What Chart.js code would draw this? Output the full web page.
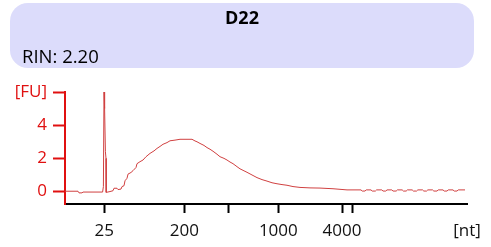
<!DOCTYPE html>
<html>
<head>
<meta charset="utf-8">
<script src="https://cdn.jsdelivr.net/npm/chart.js@4"></script>
<style>
  html, body { margin: 0; padding: 0; background: #fff; }
  #wrap { width: 491px; height: 247px; }
</style>
</head>
<body>
<div id="wrap"><canvas id="myChart"></canvas></div>
<script>
const sampleName = 'D22';
const rinText = 'RIN: 2.20';

// migration position (arbitrary time units) and fluorescence
const timePos = [0, 3.25, 3.5, 4.25, 4.5, 9.4, 9.6, 9.75, 9.9, 10.1, 10.25, 10.3,
  11.25, 12, 12.25, 13, 13.25, 14, 14.25, 14.75, 15, 15.5, 15.75, 16.5, 17, 17.75,
  18, 18.75, 19.5, 20.25, 21.25, 22.25, 23, 23.75, 24.5, 25.5, 26.25, 27.5, 28.75,
  30.25, 31.75, 32.5, 33, 33.75, 34.75, 35.5, 36.25, 37, 38, 38.75, 39.75, 40.5,
  41.25, 42, 43, 43.75, 44.75, 45.5, 46.75, 48, 49.25, 50.5, 51.75, 53, 54.25,
  55.5, 57, 58.75, 61.25, 63.75, 67, 70.5, 72, 74, 74.3, 75, 75.3, 76.5, 76.8,
  77.6, 77.9, 79.2, 79.5, 80.2, 80.5, 81.7, 82, 82.8, 83.1, 84.3, 84.6, 85.3,
  85.6, 86.8, 87.1, 87.9, 88.2, 89.4, 89.7, 90.4, 90.7, 91.9, 92.2, 93, 93.3,
  94.5, 94.8, 95.5, 95.8, 97, 97.3, 98, 98.3, 100];
const fluorescence = [0.02, 0.02, -0.08, -0.08, -0.03, -0.03, 0.3, 6.0, 5.0, 2.4, 2.0, -0.05,
  0.0, 0.05, 0.2, 0.2, 0.12, 0.15, 0.3, 0.35, 0.65, 0.8, 1.05, 1.15, 1.26, 1.45,
  1.68, 1.8, 1.9, 2.1, 2.3, 2.45, 2.6, 2.72, 2.85, 2.95, 3.06, 3.1, 3.15,
  3.15, 3.15, 3.05, 3.0, 2.9, 2.78, 2.65, 2.55, 2.43, 2.25, 2.1, 2.0, 1.9,
  1.78, 1.68, 1.5, 1.37, 1.25, 1.16, 1.0, 0.84, 0.72, 0.63, 0.53, 0.47, 0.42,
  0.38, 0.3, 0.25, 0.22, 0.21, 0.17, 0.1, 0.1, 0.1, 0.03, 0.03, 0.1, 0.1, 0.03,
  0.03, 0.1, 0.1, 0.03, 0.03, 0.1, 0.1, 0.03, 0.03, 0.1, 0.1, 0.03,
  0.03, 0.1, 0.1, 0.03, 0.03, 0.1, 0.1, 0.03, 0.03, 0.1, 0.1, 0.03,
  0.03, 0.1, 0.1, 0.03, 0.03, 0.1, 0.1, 0.03, 0.03, 0.1, 0.1];

const xTickPos = [9.83, 29.83, 40.83, 53.33, 69.25, 71.83, 100.5];
const xTickLabels = ['25', '200', '', '1000', '4000', '', '[nt]'];
const yTickPos = [0, 2, 4, 6];
const yTickLabels = ['0', '2', '4', '[FU]'];

const FONT = "'Open Sans', 'Noto Sans', sans-serif";

const headerBox = {
  id: 'headerBox',
  beforeDraw(chart) {
    const c = chart.ctx;
    c.save();
    c.fillStyle = '#dcdcfb';
    c.beginPath();
    c.roundRect(10, 3, 464, 65, 18);
    c.fill();
    c.fillStyle = '#000';
    c.textBaseline = 'middle';
    c.font = 'bold 18px ' + FONT;
    c.textAlign = 'center';
    c.fillText(sampleName, 242, 19);
    c.font = '18.5px ' + FONT;
    c.textAlign = 'left';
    c.fillText(rinText, 22, 58);
    c.restore();
  }
};

const ctx = document.getElementById('myChart');
new Chart(ctx, {
  type: 'line',
  data: {
    datasets: [{
      data: timePos.map((t, i) => ({ x: t, y: fluorescence[i] })),
      borderColor: '#d04040',
      borderWidth: 1,
      pointRadius: 0,
      tension: 0
    }]
  },
  options: {
    responsive: true,
    maintainAspectRatio: false,
    animation: false,
    layout: { padding: { top: 92, left: 10, right: 24, bottom: 0 } },
    plugins: { legend: { display: false }, tooltip: { enabled: false } },
    scales: {
      x: {
        type: 'linear',
        min: 0,
        max: 100.5,
        afterBuildTicks: scale => { scale.ticks = xTickPos.map(v => ({ value: v })); },
        afterFit: scale => { scale.height = 43; },
        ticks: {
          autoSkip: false,
          maxRotation: 0,
          padding: 8,
          color: '#111',
          font: { family: FONT, size: 17 },
          callback: (v, i) => xTickLabels[i]
        },
        grid: {
          drawOnChartArea: false,
          tickLength: 9,
          tickWidth: 2,
          tickColor: c => (c.index === xTickPos.length - 1 ? 'rgba(0,0,0,0)' : '#000')
        },
        border: { color: '#000', width: 2 }
      },
      y: {
        min: -0.75,
        max: 6,
        afterBuildTicks: scale => { scale.ticks = yTickPos.map(v => ({ value: v })); },
        afterFit: scale => { scale.width = 55; },
        ticks: {
          padding: 6,
          color: '#e01010',
          font: { family: FONT, size: 17 },
          callback: (v, i) => yTickLabels[i]
        },
        grid: {
          drawOnChartArea: false,
          tickLength: 12,
          tickWidth: 2,
          tickColor: '#e01010'
        },
        border: { color: '#e01010', width: 2 }
      }
    }
  },
  plugins: [headerBox]
});
</script>
</body>
</html>
